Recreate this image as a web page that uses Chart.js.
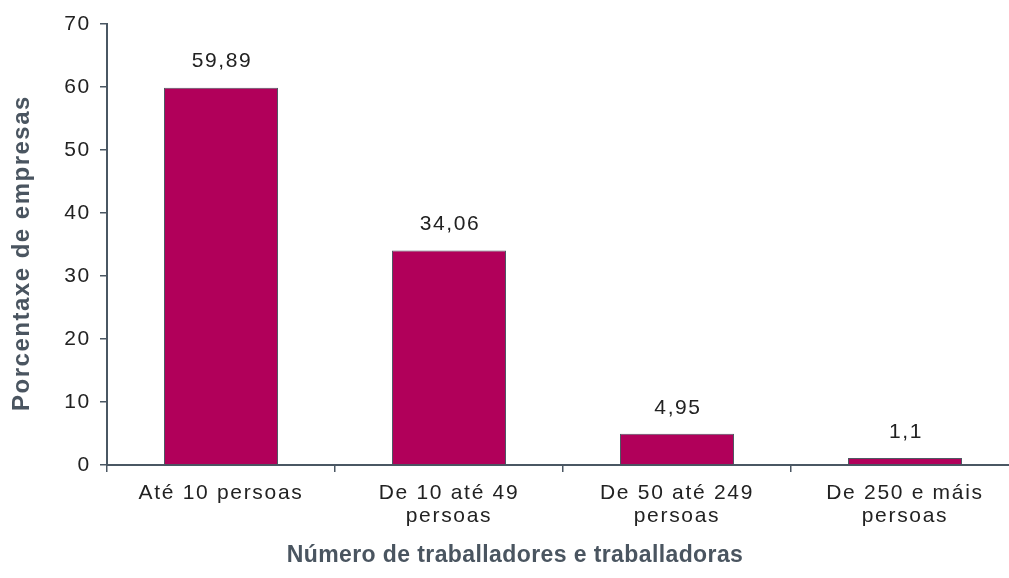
<!DOCTYPE html>
<html>
<head>
<meta charset="utf-8">
<script src="https://cdn.jsdelivr.net/npm/chart.js@4"></script>
<style>
html,body{margin:0;padding:0;background:#fff;overflow:hidden;width:1009px;height:578px;}
canvas{display:block;}
</style>
</head>
<body>
<canvas id="c" width="1022" height="578"></canvas>
<script>
const categories = [["Até 10 persoas"], ["De 10 até 49", "persoas"], ["De 50 até 249", "persoas"], ["De 250 e máis", "persoas"]];
const values = [59.89, 34.06, 4.95, 1.1];
const valueLabels = ["59,89", "34,06", "4,95", "1,1"];
const yTitle = "Porcentaxe de empresas";
const xTitle = "Número de traballadores e traballadoras";

const axisColor = "#4a5763";
const FONT = "'Liberation Sans', Arial, sans-serif";

const overlay = {
  id: 'overlay',
  beforeDraw(chart) {
    chart.ctx.letterSpacing = "1.7px";
  },
  afterDatasetsDraw(chart) {
    const ctx = chart.ctx;
    const meta = chart.getDatasetMeta(0);
    ctx.save();
    ctx.fillStyle = "#222";
    ctx.font = "21px " + FONT;
    ctx.letterSpacing = "1.6px";
    ctx.textAlign = "center";
    ctx.textBaseline = "middle";
    meta.data.forEach((bar, i) => {
      ctx.fillText(valueLabels[i], bar.x + 1, bar.y - 26);
    });
    ctx.fillStyle = "#4a5560";
    ctx.font = "bold 23px " + FONT;
    ctx.letterSpacing = "0.4px";
    ctx.fillText(xTitle, 515, 556);
    ctx.translate(22, 253);
    ctx.rotate(-Math.PI / 2);
    ctx.font = "bold 24px " + FONT;
    ctx.letterSpacing = "1.5px";
    ctx.fillText(yTitle, 0, 0);
    ctx.restore();
  }
};

new Chart(document.getElementById('c'), {
  type: 'bar',
  data: {
    labels: categories,
    datasets: [{
      data: values,
      backgroundColor: "#b1005a",
      borderColor: "#4f5763",
      borderWidth: 1,
      categoryPercentage: 1,
      barPercentage: 0.5
    }]
  },
  options: {
    responsive: false,
    animation: false,
    devicePixelRatio: 1,
    layout: { padding: { left: 0, right: 3, top: 24, bottom: 0 } },
    plugins: { legend: { display: false }, tooltip: { enabled: false } },
    scales: {
      x: {
        grid: { drawOnChartArea: false, drawTicks: true, tickLength: 7, color: axisColor, lineWidth: 1.5, offset: true },
        border: { color: axisColor, width: 2 },
        ticks: { color: "#222", font: { family: FONT, size: 21, lineHeight: 1.08 }, padding: 10, maxRotation: 0, autoSkip: false },
        afterFit(s) { s.height = 578 - 465; }
      },
      y: {
        min: 0, max: 70,
        grid: { drawOnChartArea: false, drawTicks: true, tickLength: 7, color: axisColor, lineWidth: 1.5 },
        border: { color: axisColor, width: 2 },
        ticks: { stepSize: 10, color: "#222", font: { family: FONT, size: 21 }, padding: 9 },
        afterFit(s) { s.width = 107; }
      }
    }
  },
  plugins: [overlay]
});
</script>
</body>
</html>
